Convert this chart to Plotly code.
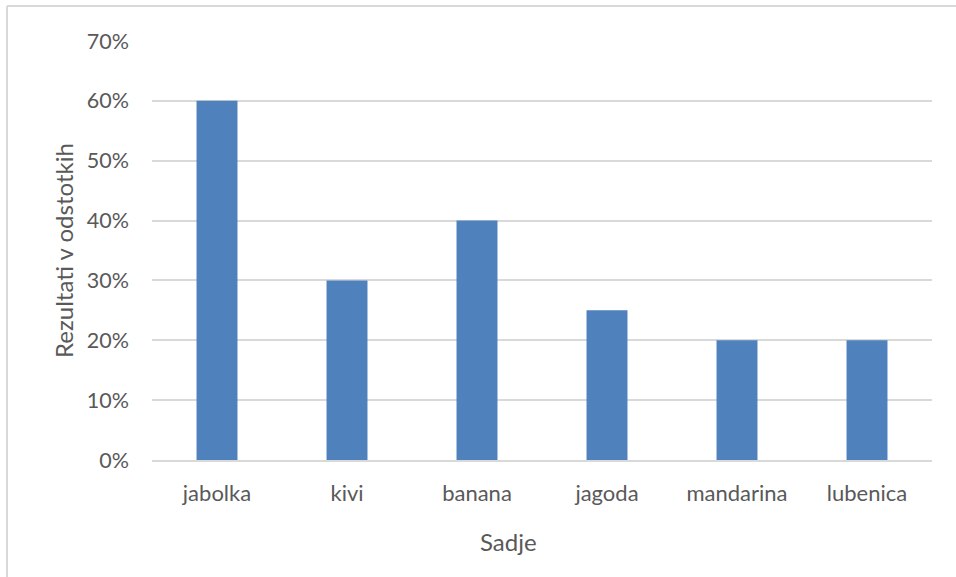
import plotly.graph_objects as go

categories = ["jabolka", "kivi", "banana", "jagoda", "mandarina", "lubenica"]
values = [0.60, 0.30, 0.40, 0.25, 0.20, 0.20]
y_ticks = [0, 0.1, 0.2, 0.3, 0.4, 0.5, 0.6, 0.7]
x_title = "Sadje"
y_title = "Rezultati v odstotkih"

W, H = 956, 577
L, R, T, B = 152, 24, 41, 117
pw, ph = W - L - R, H - T - B

def px_x(x):
    return (x - L) / pw

def px_y(y):
    return (H - B - y) / ph

FONT = "Lato, 'Open Sans', sans-serif"
TXT = "#595959"

fig = go.Figure(go.Bar(x=categories, y=values, marker=dict(color="#4F81BD", line=dict(width=0))))

fig.update_layout(
    width=W, height=H,
    margin=dict(l=L, r=R, t=T, b=B),
    paper_bgcolor="white", plot_bgcolor="white",
    bargap=0.685,
    showlegend=False,
    font=dict(family=FONT, color=TXT, size=22),
)
fig.update_yaxes(
    range=[0, 0.7], tickvals=y_ticks, tickformat=".0%",
    showgrid=True, gridcolor="#d9d9d9", gridwidth=2,
    zeroline=False, showline=False, ticks="",
    ticklabelstandoff=22,
    tickfont=dict(size=21.5, color=TXT, family=FONT),
)
fig.update_xaxes(
    showgrid=False, showline=True, linecolor="#d9d9d9", linewidth=2,
    ticks="", ticklabelstandoff=13,
    tickfont=dict(size=22, color=TXT, family=FONT),
)

fig.add_annotation(text=y_title, xref="paper", yref="paper",
                   x=px_x(63), y=px_y(251), textangle=-90, showarrow=False,
                   font=dict(size=24, color=TXT, family=FONT),
                   xanchor="center", yanchor="middle")
fig.add_annotation(text=x_title, xref="paper", yref="paper",
                   x=px_x(508), y=px_y(541), showarrow=False,
                   font=dict(size=24, color=TXT, family=FONT),
                   xanchor="center", yanchor="middle")

# chart border (top and left visible)
fig.add_shape(type="line", xref="paper", yref="paper",
              x0=px_x(7), x1=px_x(960), y0=px_y(6), y1=px_y(6),
              line=dict(color="#d9d9d9", width=2))
fig.add_shape(type="line", xref="paper", yref="paper",
              x0=px_x(7), x1=px_x(7), y0=px_y(6), y1=px_y(580),
              line=dict(color="#d9d9d9", width=2))

fig.write_html("out.html")
